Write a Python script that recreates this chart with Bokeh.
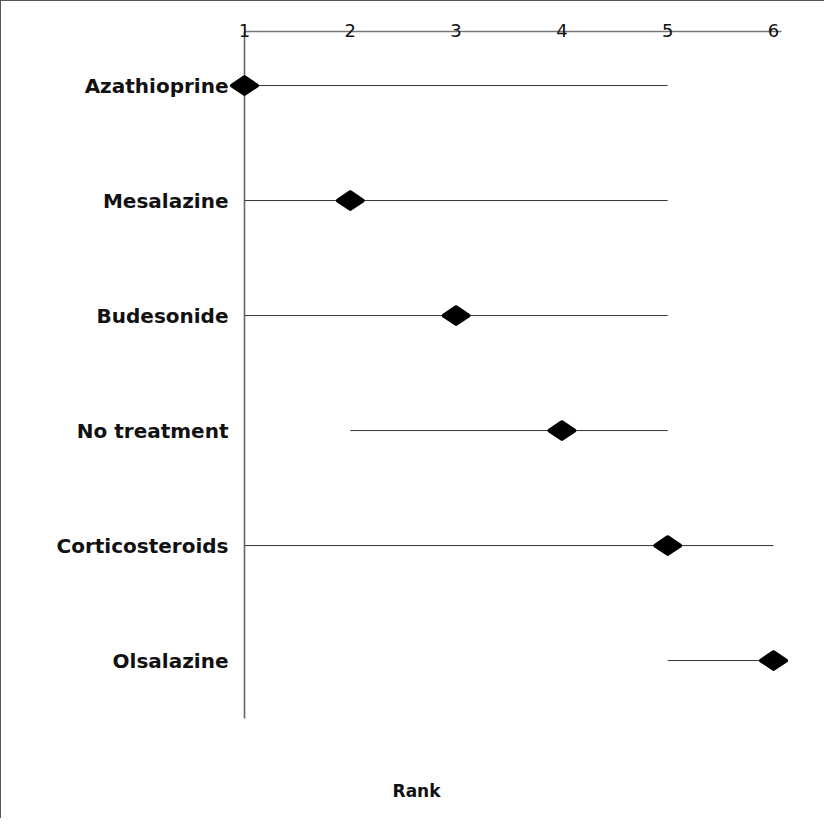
import numpy as np
from bokeh.plotting import figure
from bokeh.models import Range1d, FixedTicker, Label, LinearAxis
from bokeh.embed import file_html
from bokeh.resources import INLINE

# ---- data ----
treatments = ["Azathioprine", "Mesalazine", "Budesonide", "No treatment", "Corticosteroids", "Olsalazine"]
median_rank = [1, 2, 3, 4, 5, 6]
lower_rank = [1, 1, 1, 2, 1, 5]
upper_rank = [5, 5, 5, 5, 6, 6]
rank_ticks = [1, 2, 3, 4, 5, 6]
axis_title = "Rank"

# row positions (top row = first treatment)
ypos = list(range(len(treatments), 0, -1))

p = figure(width=824, height=818, output_backend="svg", toolbar_location=None,
           x_range=Range1d(0.849, 6.151), y_range=Range1d(-0.382, 6.47),
           x_axis_location="above",
           min_border_left=227, min_border_right=36,
           min_border_top=30, min_border_bottom=0)
p.styles = {"border-top": "1px solid #555", "border-left": "1px solid #555"}

p.background_fill_color = "white"
p.border_fill_color = "white"
p.outline_line_color = None
p.xgrid.visible = False
p.ygrid.visible = False

# top rank axis
xa = p.xaxis[0]
xa.ticker = FixedTicker(ticks=rank_ticks)
xa.bounds = (1, 6.076)
xa.major_tick_in = 0
xa.major_tick_out = 0
xa.minor_tick_in = 0
xa.minor_tick_out = 0
xa.axis_line_color = "#777777"
xa.axis_line_width = 1.3
xa.major_label_standoff = -5
xa.major_label_text_font = "DejaVu Sans"
xa.major_label_text_font_size = "18px"
xa.major_label_text_color = "#111111"

# left treatment axis (labels only)
ya = p.yaxis[0]
ya.ticker = FixedTicker(ticks=ypos)
ya.major_label_overrides = {y: t for y, t in zip(ypos, treatments)}
ya.major_tick_in = 0
ya.major_tick_out = 0
ya.minor_tick_in = 0
ya.minor_tick_out = 0
ya.axis_line_color = None
ya.major_label_standoff = 0
ya.major_label_text_font = "DejaVu Sans"
ya.major_label_text_font_style = "bold"
ya.major_label_text_font_size = "20px"
ya.major_label_text_color = "#111111"

# vertical axis line anchored at rank 1 (drawn beneath the markers)
vline = LinearAxis(fixed_location=rank_ticks[0], bounds=(0.496, 6.47),
                   ticker=FixedTicker(ticks=[]),
                   major_tick_in=0, major_tick_out=0, minor_tick_in=0, minor_tick_out=0,
                   axis_line_color="#666666", axis_line_width=1.6, level="underlay")
p.add_layout(vline, "left")

# range lines
p.segment(x0=lower_rank, y0=ypos, x1=upper_rank, y1=ypos,
          line_color="#333333", line_width=1)

# median diamonds
p.scatter(x=median_rank, y=ypos, marker="diamond", size=25, angle=np.pi / 2,
          fill_color="black", line_color="black", line_width=4, line_join="round")

# axis title below the chart
p.add_layout(Label(x=2.626, y=-0.13, text=axis_title,
                   text_align="center", text_baseline="middle",
                   text_font="DejaVu Sans", text_font_style="bold",
                   text_font_size="17px", text_color="#111111"))

open("out.html", "w").write(file_html(p, INLINE))
